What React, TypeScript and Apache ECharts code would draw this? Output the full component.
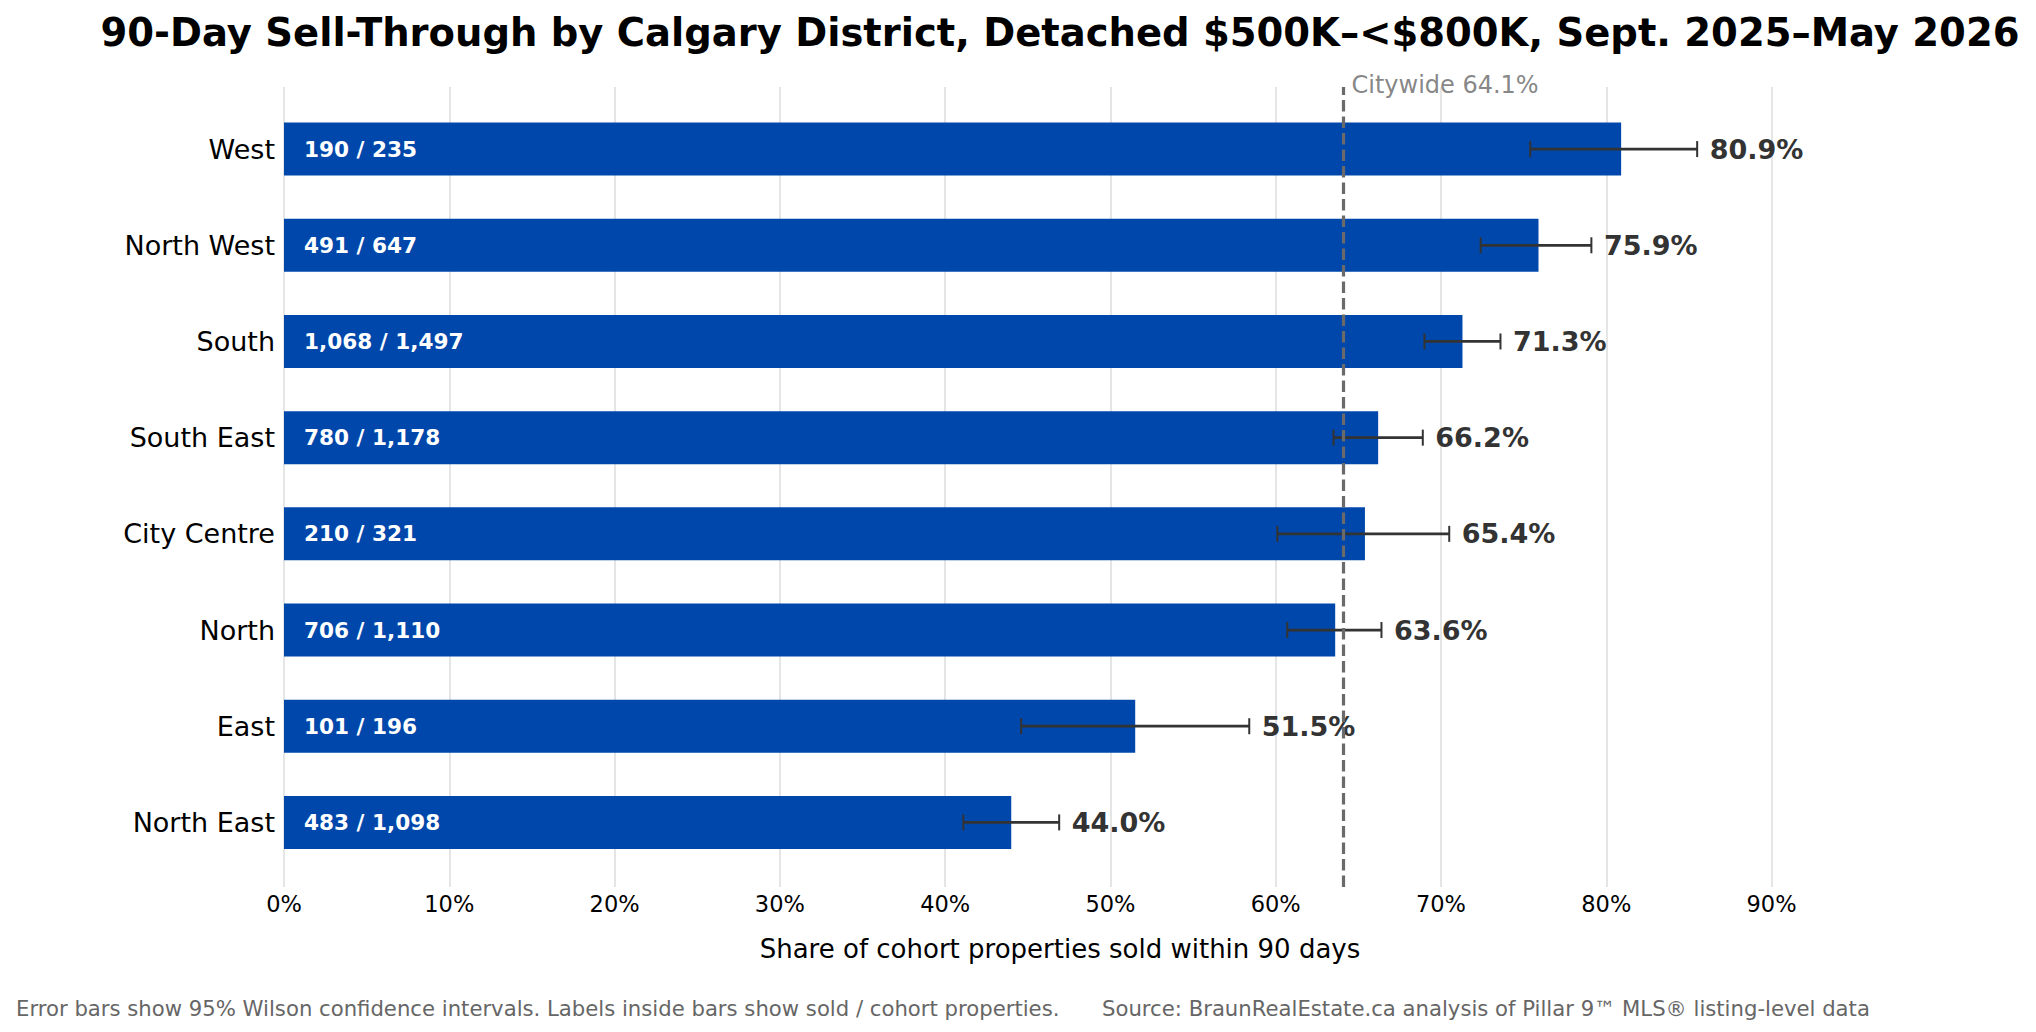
import { useEffect, useRef } from "react";
import * as echarts from "echarts";

// Districts, top to bottom as drawn.
const DISTRICTS = ["West", "North West", "South", "South East", "City Centre", "North", "East", "North East"];
const SHARE = [80.9, 75.9, 71.3, 66.2, 65.4, 63.6, 51.5, 44.0];
const SOLD = [190, 491, 1068, 780, 210, 706, 101, 483];
const COHORT = [235, 647, 1497, 1178, 321, 1110, 196, 1098];
// 95% Wilson interval bounds.
const CI_LOW = [75.4, 72.4, 69.0, 63.5, 60.1, 60.7, 44.6, 41.1];
const CI_HIGH = [85.5, 79.1, 73.6, 68.9, 70.5, 66.4, 58.4, 46.9];
const CITYWIDE = 64.1;
const X_MAX = 93.9;

const TITLE = "90-Day Sell-Through by Calgary District, Detached $500K–<$800K, Sept. 2025–May 2026";
const X_NAME = "Share of cohort properties sold within 90 days";
const NOTE = "Error bars show 95% Wilson confidence intervals. Labels inside bars show sold / cohort properties.";
const SOURCE = "Source: BraunRealEstate.ca analysis of Pillar 9™ MLS® listing-level data";

const FONT = "DejaVu Sans";
const BAR_COLOR = "#0047ab";

export default function App() {
  const chartRef = useRef<HTMLDivElement>(null);

  useEffect(() => {
    document.body.style.margin = "0";
    if (!chartRef.current) return;
    const chart = echarts.init(chartRef.current, undefined, { renderer: "svg" });

    const errData = DISTRICTS.map((_, i) => [i, CI_LOW[i], CI_HIGH[i], SHARE[i]]);

    chart.setOption({
      animation: false,
      backgroundColor: "#ffffff",
      textStyle: { fontFamily: FONT },
      title: {
        text: TITLE,
        left: 1060,
        top: 12.5,
        padding: 0,
        textAlign: "center",
        textStyle: { fontFamily: FONT, fontSize: 38.5, fontWeight: "bold", color: "#000" },
      },
      graphic: [
        {
          type: "text", x: 16, y: 1008,
          style: { text: NOTE, fill: "#666", fontSize: 21.2, fontFamily: FONT, align: "left", verticalAlign: "middle" },
        },
        {
          type: "text", x: 1102, y: 1008,
          style: { text: SOURCE, fill: "#666", fontSize: 21.2, fontFamily: FONT, align: "left", verticalAlign: "middle" },
        },
      ],
      grid: [
        // bars
        { left: 284, right: 200, top: 101, height: 769.5 },
        // axis frame: gridlines, ticks, citywide line
        { left: 284, right: 200, top: 87, height: 800 },
      ],
      xAxis: [
        { gridIndex: 0, type: "value", min: 0, max: X_MAX, show: false },
        {
          gridIndex: 1, type: "value", min: 0, max: X_MAX, interval: 10,
          axisLine: { show: false }, axisTick: { show: false },
          axisLabel: { formatter: "{value}%", fontSize: 22.5, color: "#000", margin: 5, showMaxLabel: false, fontFamily: FONT },
          splitLine: { show: true, showMaxLine: false, lineStyle: { color: "#dddddd", width: 1.5 } },
          name: X_NAME, nameLocation: "middle", nameGap: 48.5,
          nameTextStyle: { fontSize: 26, color: "#000", fontFamily: FONT },
        },
      ],
      yAxis: [
        {
          gridIndex: 0, type: "category", data: DISTRICTS, inverse: true,
          axisLine: { show: false }, axisTick: { show: false }, splitLine: { show: false },
          axisLabel: { fontSize: 27, color: "#000", margin: 9, fontFamily: FONT },
        },
        { gridIndex: 1, type: "value", min: 0, max: 1, show: false },
      ],
      series: [
        {
          name: "citywide",
          type: "scatter",
          xAxisIndex: 1, yAxisIndex: 1,
          z: 1,
          symbolSize: 0,
          data: [[CITYWIDE, 1]],
          label: {
            show: true, position: "right", distance: 8, offset: [0, -2],
            formatter: () => `Citywide ${CITYWIDE.toFixed(1)}%`,
            fontSize: 24, color: "#666", fontFamily: FONT,
          },
          markLine: {
            silent: true, symbol: "none",
            label: { show: false },
            lineStyle: { color: "#6a6a6a", width: 3.2, type: [11.5, 5] },
            data: [{ xAxis: CITYWIDE }],
          },
        },
        {
          name: "share",
          type: "bar",
          xAxisIndex: 0, yAxisIndex: 0,
          z: 2,
          barWidth: 53,
          data: SHARE,
          itemStyle: { color: BAR_COLOR },
          label: {
            show: true, position: "insideLeft", distance: 20,
            formatter: (p: any) => `${SOLD[p.dataIndex].toLocaleString("en-US")} / ${COHORT[p.dataIndex].toLocaleString("en-US")}`,
            color: "#fff", fontWeight: "bold", fontSize: 21.6, fontFamily: FONT,
          },
        },
        {
          name: "ci",
          type: "custom",
          xAxisIndex: 0, yAxisIndex: 0,
          z: 3,
          data: errData,
          encode: { x: [1, 2], y: 0 },
          renderItem: (_params: any, api: any) => {
            const idx = api.value(0);
            const lo = api.coord([api.value(1), idx]);
            const hi = api.coord([api.value(2), idx]);
            const cap = 8;
            return {
              type: "group",
              children: [
                { type: "line", shape: { x1: lo[0], y1: lo[1], x2: hi[0], y2: hi[1] }, style: { stroke: "#333", lineWidth: 2.8 } },
                { type: "line", shape: { x1: lo[0], y1: lo[1] - cap, x2: lo[0], y2: lo[1] + cap }, style: { stroke: "#333", lineWidth: 2 } },
                { type: "line", shape: { x1: hi[0], y1: hi[1] - cap, x2: hi[0], y2: hi[1] + cap }, style: { stroke: "#333", lineWidth: 2 } },
                {
                  type: "text", x: hi[0] + 12.5, y: hi[1],
                  style: {
                    text: `${Number(api.value(3)).toFixed(1)}%`,
                    fill: "#333", fontSize: 27, fontWeight: "bold", fontFamily: FONT,
                    align: "left", verticalAlign: "middle",
                  },
                },
              ],
            };
          },
        },
      ],
    });

    return () => chart.dispose();
  }, []);

  return <div ref={chartRef} style={{ width: 2036, height: 1032 }} />;
}
